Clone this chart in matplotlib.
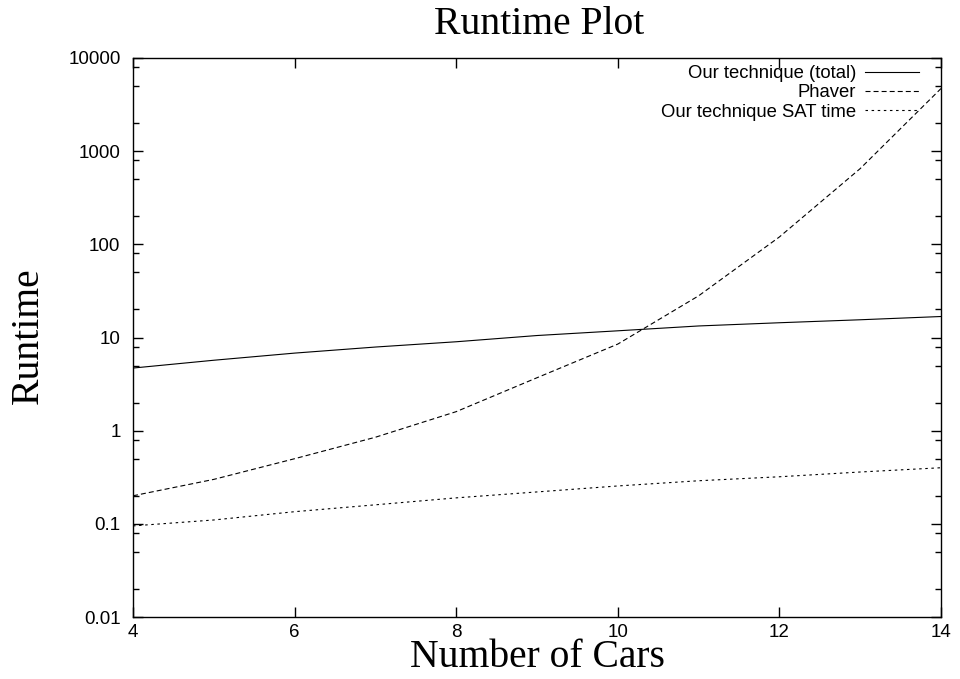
import matplotlib
matplotlib.use('Agg')
import matplotlib.pyplot as plt
from matplotlib.ticker import FixedLocator, NullFormatter

# values
cars = [4, 5, 6, 7, 8, 9, 10, 11, 12, 13, 14]
total_time = [4.7, 5.7, 6.8, 7.9, 9.0, 10.5, 11.8, 13.3, 14.4, 15.5, 16.8]
phaver_time = [0.2, 0.3, 0.5, 0.85, 1.6, 3.7, 8.5, 28, 120, 650, 4700]
sat_time = [0.095, 0.11, 0.135, 0.16, 0.19, 0.22, 0.255, 0.29, 0.32, 0.36, 0.40]

x_ticks = [4, 6, 8, 10, 12, 14]
y_ticks = [0.01, 0.1, 1, 10, 100, 1000, 10000]
y_labels = ['0.01', '0.1', '1', '10', '100', '1000', '10000']

plt.rcParams['lines.scale_dashes'] = False
sans = 'Liberation Sans'
serif = 'Liberation Serif'

fig = plt.figure(figsize=(9.6, 6.79), dpi=100)
ax = fig.add_axes([133 / 960, 1 - 617 / 679, 808 / 960, 559 / 679])

ax.plot(cars, total_time, color='black', lw=0.8, label='Our technique (total)')
ax.plot(cars, phaver_time, color='black', lw=0.8, dashes=(3.6, 2.2), label='Phaver')
ax.plot(cars, sat_time, color='black', lw=0.8, dashes=(1.8, 2.6), label='Our technique SAT time')

ax.set_yscale('log')
ax.set_xlim(4, 14)
ax.set_ylim(0.01, 10000)

ax.set_xticks(x_ticks)
ax.set_xticklabels([str(t) for t in x_ticks], family=sans, fontsize=13.5)
ax.yaxis.set_major_locator(FixedLocator(y_ticks))
ax.yaxis.set_minor_locator(FixedLocator([m * 10.0 ** e for e in range(-2, 4) for m in (2, 5, 8)]))
ax.yaxis.set_minor_formatter(NullFormatter())
ax.set_yticklabels(y_labels, family=sans, fontsize=13.5)

ax.tick_params(which='both', direction='in', top=True, right=True, width=1, colors='black')
ax.tick_params(which='major', length=7)
ax.tick_params(which='minor', length=4)
ax.tick_params(axis='x', pad=5)
ax.tick_params(axis='y', pad=9)
for s in ax.spines.values():
    s.set_linewidth(1)

fig.text(539 / 960, 1 - 34 / 679, 'Runtime Plot', family=serif, fontsize=28.5,
         ha='center', va='baseline')
fig.text(537 / 960, 1 - 667 / 679, 'Number of Cars', family=serif, fontsize=28.5,
         ha='center', va='baseline')
fig.text(38 / 960, 1 - 336 / 679, 'Runtime', family=serif, fontsize=28.5,
         ha='center', va='baseline', rotation=90, rotation_mode='anchor')

ax.legend(loc='upper right', bbox_to_anchor=(919 / 960, 1 - 65 / 679),
          bbox_transform=fig.transFigure, frameon=False, markerfirst=False,
          prop={'family': sans, 'size': 13.3}, handlelength=2.95,
          handletextpad=0.45, labelspacing=0.13, borderpad=0, borderaxespad=0)

fig.savefig('out.png', dpi=100)
